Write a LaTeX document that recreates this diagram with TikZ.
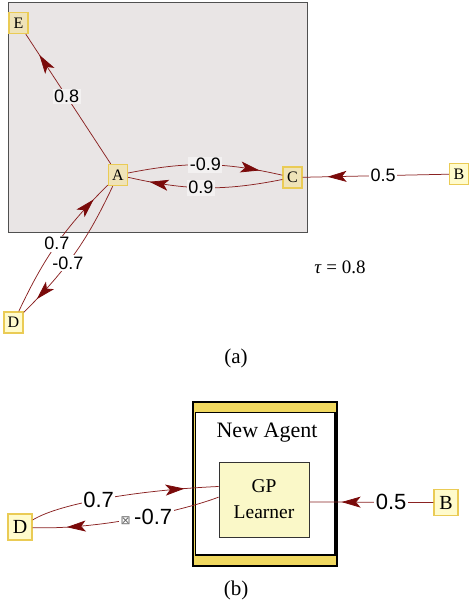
\documentclass[tikz,border=0pt]{standalone}
\usepackage{fontspec}
\setmainfont{Liberation Serif}
\newfontfamily\labfont{Liberation Sans}
\newfontfamily\symfont{DejaVu Sans}
\usetikzlibrary{arrows.meta,decorations.markings}
\definecolor{boxgray}{HTML}{E9E5E5}
\definecolor{boxline}{HTML}{505050}
\definecolor{edgered}{HTML}{8A2222}
\definecolor{arrred}{HTML}{7A0A0A}
\definecolor{innode}{HTML}{EFE3B8}
\definecolor{outnode}{HTML}{FFFBCC}
\definecolor{nodebd}{HTML}{EACB55}
\definecolor{bandyel}{HTML}{F0D860}
\definecolor{gpfill}{HTML}{FAF8C8}
\definecolor{inlabbg}{HTML}{F3F1F1}
\tikzset{
  vtx/.style={draw=nodebd, line width=1.4pt, minimum width=19pt, minimum height=21pt, inner sep=0pt, font=\fontsize{16}{16}\selectfont},
  invtx/.style={vtx, fill=innode},
  outvtx/.style={vtx, fill=outnode},
  bigvtx/.style={vtx, fill=outnode, minimum width=24pt, minimum height=26pt, font=\fontsize{20}{20}\selectfont},
  alab/.style={font=\labfont\fontsize{18}{18}\selectfont, inner sep=1.5pt, fill=inlabbg},
  wlab/.style={font=\labfont\fontsize{18}{18}\selectfont, inner sep=1.5pt, fill=white},
  blab/.style={font=\labfont\fontsize{22}{22}\selectfont, inner sep=1.5pt, fill=white},
  edge/.style={draw=edgered, line width=0.75pt},
  midarrow/.style={postaction={decorate, decoration={markings, mark=at position #1 with {\arrow{Stealth[length=19pt,width=11pt,inset=4.5pt,color=arrred]}}}}},
  caption/.style={font=\fontsize{21}{21}\selectfont, inner sep=0pt},
}
\begin{document}
\begin{tikzpicture}[x=1pt,y=-1pt]
\useasboundingbox (0,0) rectangle (468,612);
% ---------- (a) ----------
\node[draw=boxline, line width=0.9pt, fill=boxgray, minimum width=299pt, minimum height=230pt, inner sep=0pt] (grp) at (157.5,117) {};
\node[invtx] (E) at (18.5,23) {E};
\node[invtx] (A) at (118,175) {A};
\node[invtx] (C) at (292.5,177.5) {C};
\node[outvtx] (B) at (459,174) {B};
\node[outvtx] (D) at (13.5,322.5) {D};

\draw[edge, midarrow=0.84] (A) -- node[alab, pos=0.52] {0.8} (E);
\draw[edge, midarrow=0.85] (A) to[bend left=12] node[alab] {-0.9} (C);
\draw[edge, midarrow=0.86] (C) to[bend left=12] node[alab, pos=0.53] {0.9} (A);
\draw[edge, midarrow=0.83] (B) -- node[wlab, pos=0.45] {0.5} (C);
\draw[edge, midarrow=0.87] (D) to[bend left=10] node[wlab, pos=0.5] {0.7} (A);
\draw[edge, midarrow=0.88] (A) to[bend left=10] node[wlab, pos=0.58] {-0.7} (D);

\node[font=\fontsize{19}{19}\selectfont, inner sep=0pt] (tau) at (340,267) {\textit{τ} = 0.8};
\node[caption] (capa) at (236,358) {(a)};

% ---------- (b) ----------
\node[draw=black, line width=1.5pt, fill=bandyel, minimum width=144pt, minimum height=164pt, inner sep=0pt] (agout) at (265,484) {};
\node[draw=black, line width=1.5pt, fill=white, minimum width=139.5pt, minimum height=142.5pt, inner sep=0pt] (agin) at (265,483.75) {};
\node[font=\fontsize{22}{22}\selectfont, inner sep=0pt] (agname) at (267,433) {New Agent};
\node[draw=black!80, line width=0.8pt, fill=gpfill, minimum width=90pt, minimum height=75pt, inner sep=0pt, align=center, font=\fontsize{19.5}{26}\selectfont] (GP) at (264,499.5) {GP\\Learner};
\node[bigvtx] (Db) at (20,527) {D};
\node[bigvtx] (Bb) at (446,502.5) {B};

\draw[edge, midarrow=0.82] (Db.29) .. controls (60,503) and (140,490) .. (GP.164.5) node[blab, pos=0.46] {0.7};
\draw[edge, midarrow=0.82] (GP.177) .. controls (185,510) and (100,530) .. (Db.-3) node[blab, pos=0.46] {{\symfont\fontsize{12}{12}\selectfont\textcolor{black!60}{⊠}}\,-0.7};
\draw[edge, midarrow=0.74] (Bb.west) -- node[blab, pos=0.34] {0.5} (GP.-3);

\node[caption] (capb) at (236,590) {(b)};
\end{tikzpicture}
\end{document}
